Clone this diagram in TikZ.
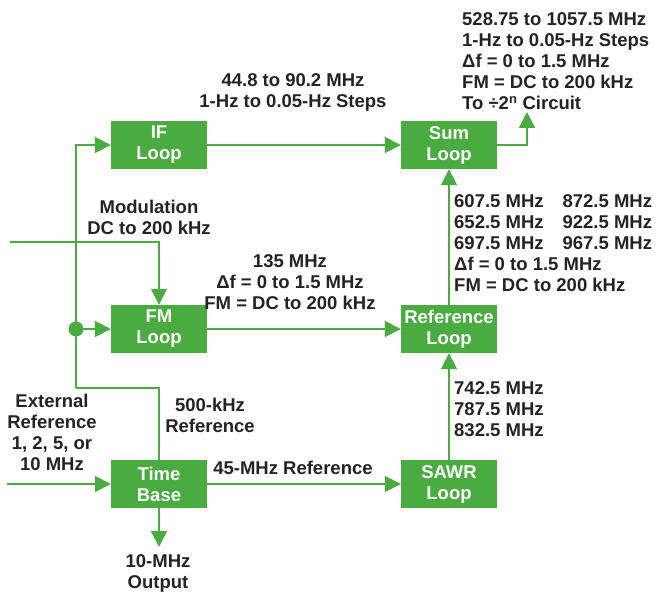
\documentclass[tikz,border=0pt]{standalone}
\usepackage{fontspec}
\setmainfont{Liberation Sans}
\usetikzlibrary{arrows.meta}
\definecolor{loopgreen}{RGB}{74,172,64}
\definecolor{labelgray}{RGB}{35,35,35}

\begin{document}
\begin{tikzpicture}[x=1pt,y=1pt,
  loopbox/.style={fill=loopgreen,text=white,minimum width=96pt,minimum height=48pt,
    inner sep=0pt,align=center,font=\fontsize{18.5}{21}\selectfont\bfseries},
  lbl/.style={text=labelgray,inner sep=0pt,font=\fontsize{18.5}{21}\selectfont\bfseries},
  sig/.style={draw=loopgreen,line width=1.8pt},
  feed/.style={sig,-{Triangle[length=16pt,width=16pt]}}]
\useasboundingbox (0,0) rectangle (657,595);
\node[loopbox] (ifl) at (159,450) {IF\\Loop};
\node[loopbox] (fml) at (159,266) {FM\\Loop};
\node[loopbox] (tb) at (159,111) {Time\\Base};
\node[loopbox] (sum) at (449,450) {Sum\\Loop};
\node[loopbox] (refl) at (449,266) {Reference\\Loop};
\node[loopbox] (sawr) at (449,111) {SAWR\\Loop};
\coordinate (bus) at (76,207);
\coordinate (tap) at (76,266);
\coordinate (modin) at (10,353);
\coordinate (extin) at (7,111);
\coordinate (tbout) at (159,48);
\coordinate (sumout) at (527,483);
\draw[sig] (tb.north) |- (bus);
\draw[feed] (bus) |- (ifl.west);
\fill[loopgreen] (tap) circle (7.5pt);
\draw[feed] (tap) -- (fml.west);
\draw[feed] (modin) -| (fml.north);
\draw[feed] (extin) -- (tb.west);
\draw[feed] (tb.south) -- (tbout);
\draw[feed] (tb.east) -- (sawr.west);
\draw[feed] (sawr.north) -- (refl.south);
\draw[feed] (refl.north) -- (sum.south);
\draw[feed] (ifl.east) -- (sum.west);
\draw[feed] (fml.east) -- (refl.west);
\draw[feed] (sum.east) -| (sumout);
\node[lbl,align=center] (iflbl) at (293,503) {44.8 to 90.2 MHz\\1-Hz to 0.05-Hz Steps};
\node[lbl,align=left,anchor=west] (sumlbl) at (462,534)
  {528.75 to 1057.5 MHz\\1-Hz to 0.05-Hz Steps\\Δf = 0 to 1.5 MHz\\FM = DC to 200 kHz\\To ÷2\textsuperscript{n} Circuit};
\node[lbl,align=center] (modlbl) at (149,378) {Modulation\\DC to 200 kHz};
\node[lbl,align=center] (fmlbl) at (290,313) {135 MHz\\Δf = 0 to 1.5 MHz\\FM = DC to 200 kHz};
\node[lbl,anchor=west] (refllbl) at (454,349.5) {\begin{tabular}{@{}l@{\hspace{19pt}}l@{}}
  607.5 MHz & 872.5 MHz\\
  652.5 MHz & 922.5 MHz\\
  697.5 MHz & 967.5 MHz\\
  \multicolumn{2}{@{}l@{}}{Δf = 0 to 1.5 MHz}\\
  \multicolumn{2}{@{}l@{}}{FM = DC to 200 kHz}
  \end{tabular}};
\node[lbl,align=center] (buslbl) at (210,179.5) {500-kHz\\Reference};
\node[lbl,align=center] (extlbl) at (52,162.5) {External\\Reference\\1, 2, 5, or\\10 MHz};
\node[lbl] (tblbl) at (293,127) {45-MHz Reference};
\node[lbl,align=left,anchor=west] (sawrlbl) at (454,186) {742.5 MHz\\787.5 MHz\\832.5 MHz};
\node[lbl,align=center] (outlbl) at (158,22) {10-MHz\\Output};
\end{tikzpicture}
\end{document}
